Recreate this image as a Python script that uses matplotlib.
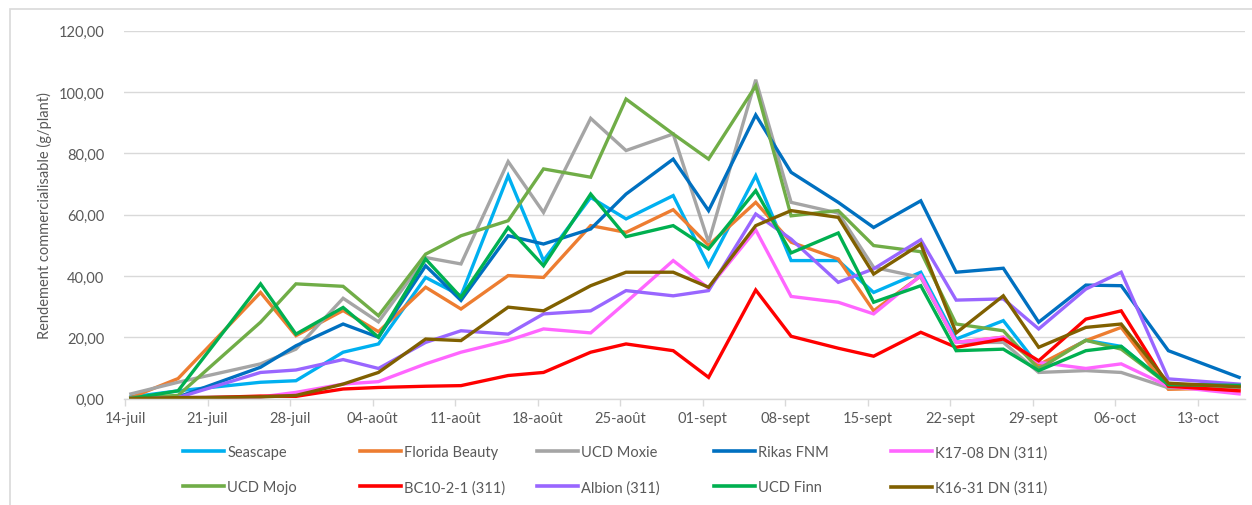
import pandas as pd
import matplotlib
matplotlib.use("Agg")
import matplotlib.pyplot as plt
from matplotlib.patches import Rectangle
from matplotlib.lines import Line2D

plt.rcParams['font.family'] = ['Lato', 'DejaVu Sans']

# harvest dates
harvest_dates = ['2020-07-14', '2020-07-18', '2020-07-25', '2020-07-28', '2020-08-01',
                 '2020-08-04', '2020-08-08', '2020-08-11', '2020-08-15', '2020-08-18',
                 '2020-08-22', '2020-08-25', '2020-08-29', '2020-09-01', '2020-09-05',
                 '2020-09-08', '2020-09-12', '2020-09-15', '2020-09-19', '2020-09-22',
                 '2020-09-26', '2020-09-29', '2020-10-03', '2020-10-06', '2020-10-10',
                 '2020-10-16']

tick_dates = ['2020-07-14', '2020-07-21', '2020-07-28', '2020-08-04', '2020-08-11',
              '2020-08-18', '2020-08-25', '2020-09-01', '2020-09-08', '2020-09-15',
              '2020-09-22', '2020-09-29', '2020-10-06', '2020-10-13']
tick_labels = ['14-juil', '21-juil', '28-juil', '04-août', '11-août', '18-août', '25-août',
               '01-sept', '08-sept', '15-sept', '22-sept', '29-sept', '06-oct', '13-oct']

seascape = [0.5, 2.5, 5.3, 5.8, 15.1, 17.8, 39.5, 33.5, 72.7, 45.0, 65.6, 58.6, 66.2,
            43.3, 72.7, 45.0, 45.0, 34.6, 41.2, 19.4, 25.4, 10.6, 19.0, 17.0, 4.5, 4.5]
florida_beauty = [0.3, 6.5, 34.6, 20.5, 28.7, 21.8, 36.3, 29.2, 40.1, 39.5, 56.4, 54.2, 61.6,
                  50.0, 64.0, 51.0, 45.5, 28.6, 40.0, 18.3, 20.0, 11.0, 18.9, 23.2, 3.0, 3.5]
ucd_moxie = [1.5, 5.3, 11.3, 16.1, 32.7, 25.0, 46.0, 43.9, 77.3, 60.7, 91.4, 80.9, 86.3,
             51.0, 104.0, 64.0, 60.5, 42.8, 39.5, 18.3, 18.3, 8.5, 9.1, 8.5, 3.5, 3.5]
rikas_fnm = [0.3, 0.5, 10.2, 17.2, 24.3, 20.0, 43.3, 32.0, 53.1, 50.4, 55.3, 66.7, 78.1,
             61.3, 92.5, 73.8, 64.0, 55.8, 64.5, 41.2, 42.5, 24.9, 37.0, 36.8, 15.6, 6.9]
k17_08 = [0.0, 0.3, 0.5, 2.0, 4.7, 5.5, 11.3, 15.1, 18.9, 22.7, 21.4, 31.4, 45.0,
          36.0, 55.0, 33.3, 31.4, 27.6, 40.1, 18.3, 20.0, 11.8, 9.8, 11.3, 4.0, 1.5]
ucd_mojo = [0.3, 1.0, 24.9, 37.4, 36.6, 27.0, 47.1, 53.1, 58.0, 74.9, 72.2, 97.7, 86.3,
            78.1, 102.0, 59.6, 61.3, 49.9, 47.9, 24.3, 22.1, 9.6, 19.0, 16.1, 4.5, 4.0]
bc10_2_1 = [0.0, 0.0, 0.8, 0.7, 3.1, 3.6, 4.0, 4.2, 7.5, 8.5, 15.1, 17.8, 15.6,
            6.9, 35.4, 20.3, 16.4, 13.8, 21.6, 16.7, 19.4, 12.3, 25.9, 28.6, 4.0, 2.5]
albion = [0.0, 0.3, 8.5, 9.3, 12.7, 9.8, 18.3, 22.1, 21.0, 27.6, 28.6, 35.2, 33.5,
          35.2, 60.2, 52.0, 37.9, 42.3, 51.8, 32.1, 32.5, 22.7, 35.7, 41.2, 6.4, 4.7]
ucd_finn = [0.0, 2.5, 37.4, 21.0, 29.7, 20.0, 45.5, 33.0, 55.8, 43.3, 66.7, 52.8, 56.4,
            48.8, 67.8, 47.5, 54.0, 31.4, 36.8, 15.6, 16.1, 9.1, 15.6, 17.0, 4.5, 4.3]
k16_31 = [0.0, 0.3, 0.5, 1.0, 4.7, 8.5, 19.4, 18.9, 29.8, 28.6, 36.8, 41.2, 41.2,
          36.3, 56.4, 61.3, 59.1, 40.6, 50.4, 21.4, 33.5, 16.7, 23.2, 24.3, 5.0, 3.8]

series_names = ['Seascape', 'Florida Beauty', 'UCD Moxie', 'Rikas FNM', 'K17-08 DN (311)',
                'UCD Mojo', 'BC10-2-1 (311)', 'Albion (311)', 'UCD Finn', 'K16-31 DN (311)']
series_values = [seascape, florida_beauty, ucd_moxie, rikas_fnm, k17_08,
                 ucd_mojo, bc10_2_1, albion, ucd_finn, k16_31]
series_colors = ['#00B0F0', '#ED7D31', '#A5A5A5', '#0070C0', '#FF66FF',
                 '#70AD47', '#FF0000', '#9966FF', '#00B050', '#806000']

text_col = '#595959'
grid_col = '#D9D9D9'

fig = plt.figure(figsize=(12.52, 5.06), dpi=100)
fig.patches.append(Rectangle((10 / 1252, -0.1), 1.2, 1 - 10 / 506 + 0.1,
                             transform=fig.transFigure, facecolor='white',
                             edgecolor=grid_col, linewidth=1.2, zorder=-1))

ax = fig.add_axes([124 / 1252, 1 - 399.5 / 506, (1245 - 124) / 1252, (399.5 - 31.7) / 506])
ax.patch.set_alpha(0)

# Excel puts each date in the middle of its day slot
x = pd.to_datetime(harvest_dates) + pd.Timedelta(hours=12)
for name, vals, col in zip(series_names, series_values, series_colors):
    ax.plot(x, vals, color=col, linewidth=2.4, label=name, solid_joinstyle='miter')

start = pd.Timestamp(tick_dates[0])
ax.set_xlim(start - pd.Timedelta(hours=2), start + pd.Timedelta(days=95))
ax.set_ylim(0, 120)

ax.set_xticks(pd.to_datetime(tick_dates))
ax.set_xticklabels(tick_labels)
yt = [0, 20, 40, 60, 80, 100, 120]
ax.set_yticks(yt)
ax.set_yticklabels([f"{v:.2f}".replace('.', ',') for v in yt])

ax.tick_params(axis='x', colors=grid_col, labelcolor=text_col, labelsize=10.5,
               length=5, width=1, pad=4)
ax.tick_params(axis='y', length=0, labelcolor=text_col, labelsize=10.5, pad=14)
ax.grid(axis='y', color=grid_col, linewidth=1)
ax.set_axisbelow(True)
for s in ['top', 'right', 'left']:
    ax.spines[s].set_visible(False)
ax.spines['bottom'].set_color(grid_col)
ax.spines['bottom'].set_linewidth(1)

ax.set_ylabel('Rendement commercialisable (g/plant)', color=text_col, fontsize=10.5, labelpad=5)

# legend: Excel style, equal column widths -> one legend per column
for i in range(5):
    handles = [Line2D([], [], color=series_colors[i], linewidth=2.6),
               Line2D([], [], color=series_colors[i + 5], linewidth=2.6)]
    leg = fig.legend(handles, [series_names[i], series_names[i + 5]],
                     loc='upper left', bbox_to_anchor=((183 + 177 * i) / 1252, 1 - 446 / 506),
                     frameon=False, fontsize=10.5, handlelength=2.8, handletextpad=0.25,
                     labelspacing=1.45, borderaxespad=0, borderpad=0)
    for t in leg.get_texts():
        t.set_color(text_col)

fig.savefig('out.png', dpi=100)
